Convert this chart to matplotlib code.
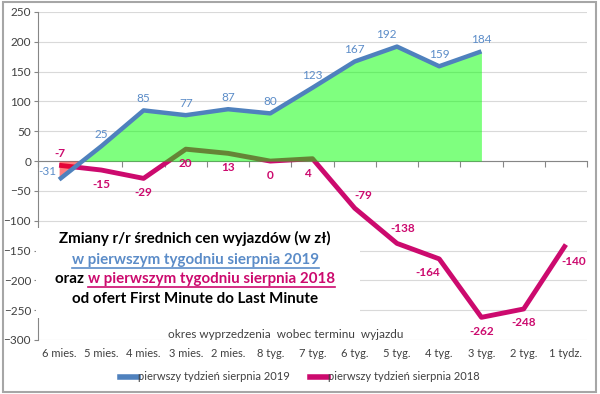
import matplotlib.pyplot as plt
import numpy as np
from matplotlib.lines import Line2D
from matplotlib.patches import Rectangle

plt.rcParams['font.family'] = ['Lato', 'DejaVu Sans']

categories = ['6 mies.', '5 mies.', '4 mies.', '3 mies.', '2 mies.', '8 tyg.', '7 tyg.',
              '6 tyg.', '5 tyg.', '4 tyg.', '3 tyg.', '2 tyg.', '1 tydz.']
values_2019 = [-31, 25, 85, 77, 87, 80, 123, 167, 192, 159, 184]
values_2018 = [-7, -15, -29, 20, 13, 0, 4, -79, -138, -164, -262, -248, -140]
label_2019 = 'pierwszy tydzień sierpnia 2019'
label_2018 = 'pierwszy tydzień sierpnia 2018'

blue = '#4F81BD'
blue_txt = '#5B8CC8'
magenta = '#CC0A6E'
grey_txt = '#404040'

x19 = np.arange(len(values_2019))
x18 = np.arange(len(values_2018))
v19 = np.array(values_2019, dtype=float)

fig = plt.figure(figsize=(6, 3.94), dpi=100)
ax = fig.add_axes([38 / 600, 1 - 340 / 394, 549 / 600, 328 / 394])

ax.set_xlim(-0.5, len(categories) - 0.5)
ax.set_ylim(-300, 250)
ax.set_yticks(np.arange(-300, 251, 50))
ax.grid(axis='y', color='#D9D9D9', lw=0.8, zorder=0)
ax.set_axisbelow(True)

for s in ['top', 'right']:
    ax.spines[s].set_visible(False)
ax.spines['left'].set_color('#868686')
ax.spines['bottom'].set_color('#868686')
ax.spines['bottom'].set_position(('data', 0))
ax.set_xticks(np.arange(-0.5, len(categories), 1.0))
ax.set_xticklabels([])
ax.tick_params(axis='x', length=4, color='#868686', direction='out')
ax.tick_params(axis='y', length=3, color='#868686', labelsize=8.5, labelcolor=grey_txt, pad=2)

# lines + fills
ax.plot(x18, values_2018, color=magenta, lw=3.5, solid_capstyle='butt', zorder=3)
ax.fill_between(x19, 0, v19, where=v19 >= 0, interpolate=True, color='#00FF00', alpha=0.5, lw=0, zorder=4)
ax.fill_between(x19, 0, v19, where=v19 <= 0, interpolate=True, color='#FF0000', alpha=0.5, lw=0, zorder=4)
ax.plot(x19, values_2019, color=blue, lw=3.2, solid_capstyle='butt', zorder=5)

# data labels (offsets in pixels, positive = up)
off19 = {0: (-12, 8), 8: (-11, 12)}
for i, v in enumerate(values_2019):
    dx, dy = off19.get(i, (0, 12))
    ax.annotate(str(v), (i, v), xytext=(dx, dy), textcoords='offset pixels',
                ha='center', va='center', color=blue_txt, fontsize=8.5, zorder=6)

off18 = {0: (1, 12), 6: (-5, -15), 7: (9, 13), 8: (6, 15), 9: (-11, -14), 12: (8, -17)}
for i, v in enumerate(values_2018):
    dx, dy = off18.get(i, (0, -14))
    ax.annotate(str(v), (i, v), xytext=(dx, dy), textcoords='offset pixels',
                ha='center', va='center', color=magenta, fontsize=8.5, fontweight='bold', zorder=6)

# category labels under the plot area
for i, c in enumerate(categories):
    ax.text(i, -0.04, c, transform=ax.get_xaxis_transform(), ha='center', va='center',
            fontsize=8, color=grey_txt)

# white box behind the title text
fig.patches.append(Rectangle((36 / 600, 1 - 318 / 394), 324 / 600, 90 / 394,
                             transform=fig.transFigure, facecolor='white', edgecolor='none', zorder=1))

cx = 195 / 600
title_lines = [(238, [('Zmiany r/r średnich cen wyjazdów (w zł)', 'black', False)]),
               (260, [('w pierwszym tygodniu sierpnia 2019', blue_txt, True)]),
               (279, [('oraz ', 'black', False), ('w pierwszym tygodniu sierpnia 2018', magenta, True)]),
               (299, [('od ofert First Minute do Last Minute', 'black', False)])]

renderer = fig.canvas.get_renderer()
for ypx, parts in title_lines:
    y = 1 - ypx / 394
    texts = []
    for s, col, ul in parts:
        t = fig.text(0, y, s, ha='left', va='center', fontsize=10.9, fontweight='bold',
                     color=col, zorder=2)
        texts.append((t, col, ul))
    widths = [t.get_window_extent(renderer).width / 600 for t, _, _ in texts]
    x = cx - sum(widths) / 2
    for (t, col, ul), w in zip(texts, widths):
        t.set_x(x)
        if ul:
            yl = 1 - (ypx + 8) / 394
            fig.add_artist(Line2D([x, x + w], [yl, yl], color=col, lw=1.2, zorder=2))
        x += w

fig.text(286 / 600, 1 - 334 / 394, 'okres wyprzedzenia  wobec terminu  wyjazdu', ha='center', va='center',
         fontsize=8.5, color=grey_txt, zorder=2)

handles = [Line2D([], [], color=blue, lw=4), Line2D([], [], color=magenta, lw=4)]
fig.legend(handles, [label_2019, label_2018], loc='center', bbox_to_anchor=(300 / 600, 1 - 377 / 394),
           ncol=2, frameon=False, fontsize=8, handlelength=1.6, handletextpad=0.0,
           columnspacing=1.8, labelcolor=grey_txt)

fig.patches.append(Rectangle((3 / 600, 2 / 394), 593 / 600, 390 / 394, transform=fig.transFigure,
                             facecolor='none', edgecolor='#A6A6A6', lw=1.5, zorder=10))

fig.savefig('out.png', dpi=100)
